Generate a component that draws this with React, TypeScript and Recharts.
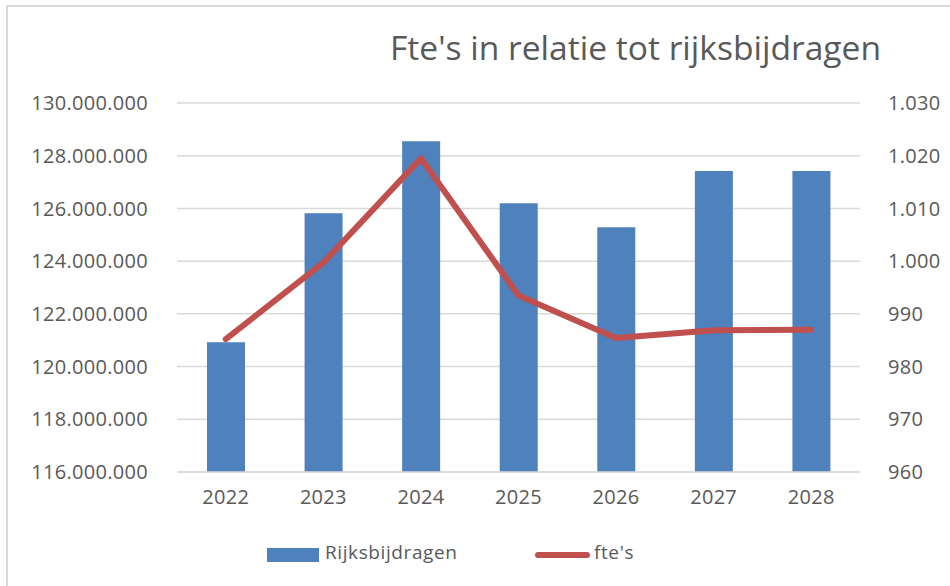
import React from "react";
import {
  ComposedChart,
  Bar,
  Line,
  XAxis,
  YAxis,
  CartesianGrid,
} from "recharts";

const years = ["2022", "2023", "2024", "2025", "2026", "2027", "2028"];
const rijksbijdragen = [
  120920000, 125820000, 128550000, 126200000, 125290000, 127420000, 127420000,
];
const ftes = [985.2, 999.7, 1019.5, 993.5, 985.4, 986.9, 987];
const leftTicks = [
  116000000, 118000000, 120000000, 122000000, 124000000, 126000000, 128000000,
  130000000,
];
const rightTicks = [960, 970, 980, 990, 1000, 1010, 1020, 1030];

const FONT = "'Open Sans', sans-serif";
const TEXT = "#595959";
const BLUE = "#4f81bd";
const RED = "#c0504d";

// dutch thousands separator
const fmt = (v: number) =>
  String(Math.round(v)).replace(/\B(?=(\d{3})+(?!\d))/g, ".");

const data = years.map((y, i) => ({
  year: y,
  rijks: rijksbijdragen[i],
  fte: ftes[i],
}));

const tickStyle = {
  fill: TEXT,
  fontSize: 20,
  fontFamily: FONT,
  letterSpacing: 0.3,
};

function ChartLegend() {
  return (
    <div
      style={{
        position: "absolute",
        left: 0,
        top: 539,
        width: 950,
        height: 30,
        fontFamily: FONT,
        fontSize: 19,
        color: TEXT,
      }}
    >
      <div
        style={{
          position: "absolute",
          left: 267,
          top: 9,
          width: 52,
          height: 14,
          background: BLUE,
        }}
      />
      <span style={{ position: "absolute", left: 325, top: 0, letterSpacing: 0.6 }}>
        Rijksbijdragen
      </span>
      <div
        style={{
          position: "absolute",
          left: 535,
          top: 13,
          width: 55,
          height: 6,
          borderRadius: 3,
          background: RED,
        }}
      />
      <span style={{ position: "absolute", left: 594, top: 0, letterSpacing: 0.6 }}>
        fte's
      </span>
    </div>
  );
}

export default function App() {
  return (
    <div
      style={{
        position: "absolute",
        left: 0,
        top: 0,
        width: 950,
        height: 586,
        background: "#fff",
        overflow: "hidden",
      }}
    >
      <div
        style={{
          position: "absolute",
          left: 6,
          top: 5,
          width: 1000,
          height: 1000,
          borderLeft: "2px solid #d9d9d9",
          borderTop: "2px solid #d9d9d9",
        }}
      />
      <div
        style={{
          position: "absolute",
          left: 390,
          top: 24,
          fontFamily: FONT,
          fontSize: 33.6,
          color: TEXT,
          whiteSpace: "nowrap",
        }}
      >
        Fte's in relatie tot rijksbijdragen
      </div>
      <div style={{ position: "absolute", left: 0, top: 0 }}>
        <ComposedChart
          width={950}
          height={586}
          data={data}
          margin={{ top: 103, right: 0, left: 0, bottom: 74 }}
          barCategoryGap="30.5%"
        >
          <CartesianGrid
            vertical={false}
            stroke="#d9d9d9"
            strokeWidth={1.5}
            yAxisId="left"
          />
          <XAxis
            dataKey="year"
            tickLine={false}
            axisLine={{ stroke: "#d9d9d9", strokeWidth: 1.5 }}
            tick={tickStyle}
            tickSize={0}
            tickMargin={18}
            height={40}
          />
          <YAxis
            yAxisId="left"
            orientation="left"
            width={177}
            domain={[116000000, 130000000]}
            ticks={leftTicks}
            tickFormatter={fmt}
            axisLine={false}
            tickLine={false}
            tickSize={0}
            tickMargin={29}
            tick={tickStyle}
          />
          <YAxis
            yAxisId="right"
            orientation="right"
            width={90}
            domain={[960, 1030]}
            ticks={rightTicks}
            tickFormatter={fmt}
            axisLine={false}
            tickLine={false}
            tickSize={0}
            tickMargin={28}
            tick={tickStyle}
          />
          <Bar
            yAxisId="left"
            dataKey="rijks"
            name="Rijksbijdragen"
            fill={BLUE}
            barSize={38}
            isAnimationActive={false}
          />
          <Line
            yAxisId="right"
            dataKey="fte"
            name="fte's"
            type="linear"
            stroke={RED}
            strokeWidth={6}
            strokeLinecap="round"
            strokeLinejoin="round"
            dot={false}
            activeDot={false}
            isAnimationActive={false}
          />
        </ComposedChart>
      </div>
      <ChartLegend />
    </div>
  );
}
